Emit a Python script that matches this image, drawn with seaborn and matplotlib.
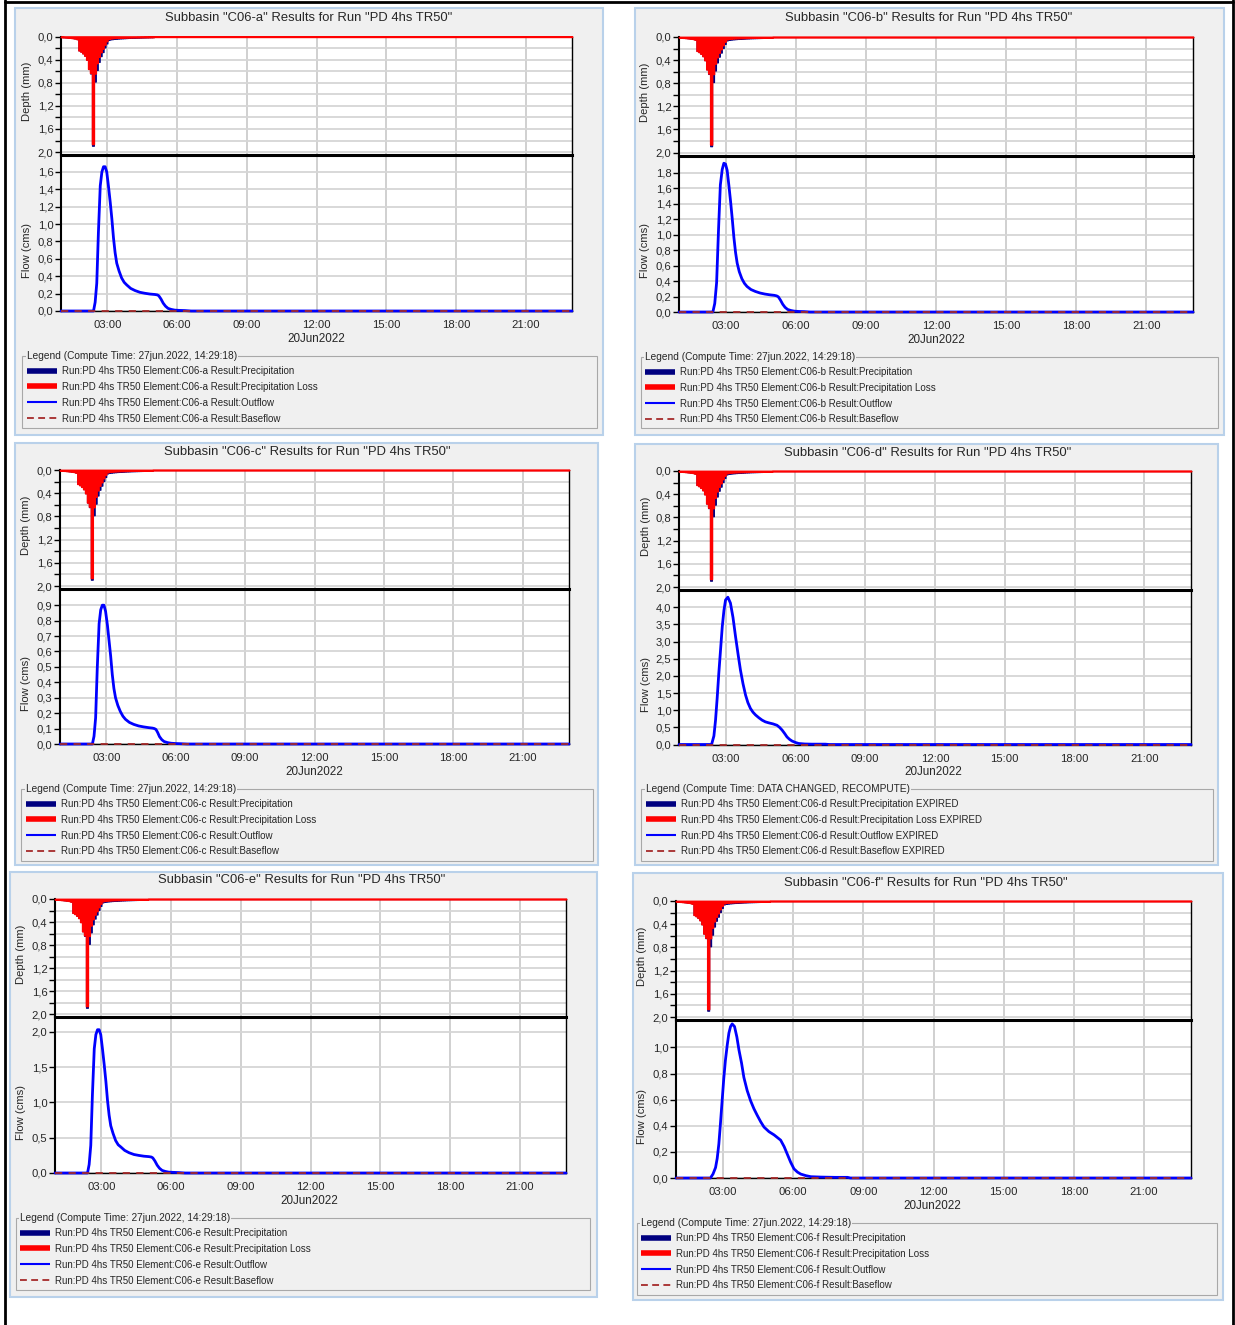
import numpy as np
import matplotlib
matplotlib.use("Agg")
import matplotlib.pyplot as plt
from matplotlib.lines import Line2D
from matplotlib.patches import Rectangle
from matplotlib.ticker import FixedLocator, FuncFormatter
import seaborn as sns

sns.set_style("white")
plt.rcParams['font.family'] = ['Liberation Sans', 'DejaVu Sans']

# ------------------------------------------------------------------ data
storm_start_h = 1.0          # 01:00 on 20Jun2022
step_min = 5                 # 5-minute hyetograph interval
run_end_h = 23.0             # 23:00

precip_mm = [0.010, 0.012, 0.014, 0.017, 0.020, 0.024, 0.028, 0.034, 0.045,
             0.24, 0.26, 0.29, 0.33, 0.40, 0.56, 0.64, 1.89, 0.78, 0.58, 0.44, 0.34, 0.27, 0.19, 0.12,
             0.060, 0.050, 0.046, 0.042, 0.039, 0.036, 0.034, 0.032, 0.030, 0.028, 0.026, 0.025,
             0.023, 0.022, 0.021, 0.020, 0.019, 0.018, 0.017, 0.016, 0.015, 0.014, 0.013, 0.012]
loss_mm = [0.010, 0.012, 0.014, 0.017, 0.020, 0.024, 0.028, 0.034, 0.045,
           0.24, 0.26, 0.29, 0.33, 0.40, 0.56, 0.63, 1.86, 0.64, 0.46, 0.35, 0.27, 0.21, 0.14, 0.08,
           0.040, 0.032, 0.028, 0.025, 0.023, 0.021, 0.020, 0.019, 0.018, 0.017, 0.016, 0.015,
           0.014, 0.013, 0.013, 0.012, 0.012, 0.011, 0.011, 0.010, 0.010, 0.009, 0.009, 0.008]

flow_a_t = [1.00, 2.40, 2.47, 2.54, 2.61, 2.69, 2.76, 2.83, 2.90, 2.97, 3.05, 3.12, 3.19, 3.26, 3.33, 3.40, 3.50, 3.61, 3.72,
            3.83, 4.00, 4.19, 4.40, 4.61, 4.83, 5.04, 5.15, 5.21, 5.30, 5.40, 5.50, 5.61, 5.75, 5.90, 6.10, 6.33, 6.60, 23.0]
flow_a_q = [0, 0, 0.10, 0.32, 0.90, 1.44, 1.60, 1.66, 1.66, 1.60, 1.42, 1.25, 1.06, 0.84, 0.67, 0.55, 0.46, 0.38, 0.33,
            0.30, 0.26, 0.235, 0.215, 0.204, 0.195, 0.19, 0.185, 0.175, 0.14, 0.09, 0.055, 0.03, 0.018, 0.01, 0.007, 0.005, 0, 0]

flow_b_t = [1.00, 2.45, 2.53, 2.61, 2.69, 2.77, 2.85, 2.92, 2.99, 3.06, 3.14, 3.21, 3.28, 3.35, 3.42, 3.49, 3.58, 3.69, 3.80,
            3.91, 4.08, 4.27, 4.47, 4.67, 4.88, 5.08, 5.18, 5.25, 5.34, 5.44, 5.54, 5.65, 5.78, 5.93, 6.13, 6.36, 6.62, 23.0]
flow_b_q = [0, 0, 0.11, 0.38, 1.05, 1.64, 1.84, 1.92, 1.91, 1.83, 1.62, 1.42, 1.20, 0.96, 0.77, 0.63, 0.52, 0.43, 0.37,
            0.33, 0.29, 0.265, 0.245, 0.232, 0.222, 0.215, 0.208, 0.196, 0.155, 0.10, 0.06, 0.033, 0.02, 0.011, 0.007, 0.005, 0, 0]

flow_c_t = [1.00, 2.40, 2.47, 2.54, 2.61, 2.69, 2.76, 2.83, 2.90, 2.97, 3.05, 3.12, 3.19, 3.26, 3.33, 3.40, 3.50, 3.61, 3.72,
            3.83, 4.00, 4.19, 4.40, 4.61, 4.83, 5.00, 5.08, 5.15, 5.22, 5.30, 5.40, 5.50, 5.65, 5.80, 6.00, 6.20, 6.50, 23.0]
flow_c_q = [0, 0, 0.05, 0.17, 0.49, 0.78, 0.87, 0.90, 0.90, 0.86, 0.77, 0.67, 0.57, 0.45, 0.36, 0.30, 0.25, 0.21, 0.18,
            0.16, 0.14, 0.127, 0.117, 0.111, 0.106, 0.103, 0.10, 0.094, 0.075, 0.048, 0.028, 0.016, 0.009, 0.005, 0.003, 0.002, 0, 0]

flow_d_t = [1.00, 2.40, 2.50, 2.57, 2.64, 2.71, 2.79, 2.86, 2.93, 3.00, 3.10, 3.21, 3.32, 3.43, 3.54, 3.64, 3.75, 3.86, 3.96,
            4.07, 4.18, 4.29, 4.43, 4.57, 4.71, 4.86, 5.04, 5.21, 5.32, 5.43, 5.54, 5.64, 5.75, 5.86, 6.00, 6.14, 6.40, 6.71,
            7.00, 7.29, 7.45, 23.0]
flow_d_q = [0, 0, 0.25, 0.71, 1.35, 2.07, 2.80, 3.44, 3.90, 4.21, 4.29, 4.12, 3.70, 3.14, 2.62, 2.17, 1.77, 1.44, 1.22,
            1.05, 0.94, 0.86, 0.78, 0.71, 0.66, 0.63, 0.60, 0.56, 0.50, 0.42, 0.32, 0.22, 0.15, 0.10, 0.06, 0.03, 0.015, 0.01,
            0.01, 0.01, 0, 0]

flow_e_t = [1.00, 2.40, 2.47, 2.54, 2.61, 2.69, 2.76, 2.83, 2.90, 2.97, 3.05, 3.12, 3.19, 3.26, 3.33, 3.40, 3.50, 3.61, 3.72,
            3.83, 4.00, 4.19, 4.40, 4.61, 4.83, 5.04, 5.15, 5.21, 5.30, 5.40, 5.50, 5.61, 5.75, 5.90, 6.10, 6.33, 6.60, 23.0]
flow_e_q = [0, 0, 0.12, 0.39, 1.10, 1.76, 1.96, 2.03, 2.03, 1.96, 1.74, 1.53, 1.30, 1.03, 0.82, 0.67, 0.56, 0.46, 0.40,
            0.37, 0.32, 0.287, 0.262, 0.249, 0.238, 0.232, 0.226, 0.214, 0.171, 0.11, 0.067, 0.037, 0.022, 0.012, 0.009, 0.006, 0, 0]

flow_f_t = [1.00, 2.47, 2.58, 2.69, 2.76, 2.83, 2.90, 2.97, 3.04, 3.11, 3.19, 3.26, 3.33, 3.40, 3.50, 3.60, 3.69, 3.80, 3.90,
            4.04, 4.19, 4.33, 4.47, 4.62, 4.76, 4.97, 5.19, 5.33, 5.47, 5.62, 5.76, 5.90, 6.04, 6.19, 6.33, 6.55, 6.76, 7.20,
            7.80, 8.33, 8.45, 23.0]
flow_f_q = [0, 0, 0.03, 0.08, 0.15, 0.26, 0.42, 0.59, 0.76, 0.90, 1.02, 1.11, 1.16, 1.18, 1.16, 1.08, 0.98, 0.88, 0.77,
            0.67, 0.59, 0.53, 0.48, 0.43, 0.39, 0.355, 0.33, 0.31, 0.29, 0.24, 0.18, 0.12, 0.07, 0.045, 0.03, 0.018, 0.01, 0.007,
            0.005, 0.005, 0, 0]

baseflow_t = [1.0, 23.0]
baseflow_q = [0.0, 0.0]

subbasins = ["C06-a", "C06-b", "C06-c", "C06-d", "C06-e", "C06-f"]
flow_ticks = {
    "C06-a": [0.0, 0.2, 0.4, 0.6, 0.8, 1.0, 1.2, 1.4, 1.6],
    "C06-b": [0.0, 0.2, 0.4, 0.6, 0.8, 1.0, 1.2, 1.4, 1.6, 1.8],
    "C06-c": [0.0, 0.1, 0.2, 0.3, 0.4, 0.5, 0.6, 0.7, 0.8, 0.9],
    "C06-d": [0.0, 0.5, 1.0, 1.5, 2.0, 2.5, 3.0, 3.5, 4.0],
    "C06-e": [0.0, 0.5, 1.0, 1.5, 2.0],
    "C06-f": [0.0, 0.2, 0.4, 0.6, 0.8, 1.0],
}
flow_max = {"C06-a": 1.795, "C06-b": 2.02, "C06-c": 1.005, "C06-d": 4.5, "C06-e": 2.21, "C06-f": 1.21}
flows = {"C06-a": (flow_a_t, flow_a_q), "C06-b": (flow_b_t, flow_b_q), "C06-c": (flow_c_t, flow_c_q),
         "C06-d": (flow_d_t, flow_d_q), "C06-e": (flow_e_t, flow_e_q), "C06-f": (flow_f_t, flow_f_q)}
depth_major = [0.0, 0.4, 0.8, 1.2, 1.6, 2.0]
depth_minor = [0.2, 0.6, 1.0, 1.4, 1.8]
time_ticks = [3, 6, 9, 12, 15, 18, 21]
date_label = "20Jun2022"
run_name = "PD 4hs TR50"
compute_time = {"C06-a": "27jun.2022, 14:29:18", "C06-b": "27jun.2022, 14:29:18", "C06-c": "27jun.2022, 14:29:18",
                "C06-d": "DATA CHANGED, RECOMPUTE", "C06-e": "27jun.2022, 14:29:18", "C06-f": "27jun.2022, 14:29:18"}
expired = {"C06-d"}
result_names = ["Precipitation", "Precipitation Loss", "Outflow", "Baseflow"]

# ------------------------------------------------------------------ layout (pixels)
W, H = 1235, 1325
layout = {
    "C06-a": dict(box=(15, 8, 603, 435), ax=(61, 572), dtop=36.5, sep=155, fbot=311, title=(309, 18), ylx=27,
                  date=(316, 339), lbox=(22, 356, 597, 428), lx=27, ly=371),
    "C06-b": dict(box=(635, 8, 1224, 435), ax=(679, 1193), dtop=37, sep=155.5, fbot=312, title=(929, 18), ylx=645,
                  date=(936, 340), lbox=(641, 357, 1218, 428), lx=645, ly=372),
    "C06-c": dict(box=(15, 443, 598, 865), ax=(60, 569), dtop=470, sep=589, fbot=744, title=(307, 452), ylx=26,
                  date=(314, 772), lbox=(21, 789, 593, 861), lx=26, ly=804),
    "C06-d": dict(box=(635, 444, 1218, 865), ax=(679, 1191), dtop=471, sep=590, fbot=744.5, title=(928, 453), ylx=646,
                  date=(933, 772), lbox=(641, 789, 1213, 861), lx=646, ly=804),
    "C06-e": dict(box=(10, 872, 597, 1297), ax=(55, 566), dtop=899, sep=1017, fbot=1173, title=(302, 880), ylx=21,
                  date=(309, 1201), lbox=(16, 1218, 590, 1290), lx=20, ly=1233),
    "C06-f": dict(box=(633, 873, 1223, 1300), ax=(676, 1191), dtop=901, sep=1020, fbot=1178, title=(926, 883), ylx=642,
                  date=(932, 1206), lbox=(637, 1223, 1217, 1295), lx=641, ly=1238),
}

NAVY, RED, BLUE, BROWN = "#000080", "#ff0000", "#0000ff", "#a52a2a"
PANEL_BG, PANEL_EDGE = "#f0f0f0", "#b9d1ea"
GRID_V, GRID_H = "#c4c4c4", "#d6d6d6"
TICK_FS, TITLE_FS, LEG_FS, DATE_FS = 8.1, 9.4, 7.0, 8.4

fig = plt.figure(figsize=(W / 100, H / 100), dpi=100)
fig.patch.set_facecolor("white")


def fx(x):
    return x / W


def fy(y):
    return 1 - y / H


comma = FuncFormatter(lambda v, p: f"{v:.1f}".replace(".", ","))
hhmm = FuncFormatter(lambda v, p: f"{int(round(v)):02d}:00")

n_int = int(round((run_end_h - storm_start_h) * 60 / step_min))
edges = storm_start_h + np.arange(n_int + 1) * step_min / 60.0


def pad_series(vals):
    full = np.zeros(n_int)
    full[:len(vals)] = vals
    return np.append(full, full[-1])


precip_full = pad_series(precip_mm)
loss_full = pad_series(loss_mm)

for sb in subbasins:
    L = layout[sb]
    x0b, y0b, x1b, y1b = L["box"]
    fig.add_artist(Rectangle((fx(x0b), fy(y1b)), (x1b - x0b) / W, (y1b - y0b) / H, transform=fig.transFigure,
                             facecolor=PANEL_BG, edgecolor=PANEL_EDGE, linewidth=1.5, zorder=-10))
    ax0, ax1 = L["ax"]
    aw = (ax1 - ax0) / W

    # ---------------- flow axes
    axf = fig.add_axes([fx(ax0), fy(L["fbot"]), aw, (L["fbot"] - L["sep"]) / H])
    axf.set_zorder(1)
    axf.set_facecolor("white")
    axf.set_axisbelow(True)
    ft, fq = flows[sb]
    sns.lineplot(x=ft, y=fq, ax=axf, color=BLUE, linewidth=2.0, zorder=3, clip_on=False)
    sns.lineplot(x=baseflow_t, y=baseflow_q, ax=axf, color=BROWN, linewidth=1.3, zorder=4, clip_on=False,
                 linestyle=(0, (4, 3.5)))
    axf.set_xlim(storm_start_h, run_end_h)
    axf.set_ylim(0, flow_max[sb])
    axf.yaxis.set_major_locator(FixedLocator(flow_ticks[sb]))
    axf.yaxis.set_major_formatter(comma)
    axf.xaxis.set_major_locator(FixedLocator(time_ticks))
    axf.xaxis.set_major_formatter(hhmm)
    axf.grid(True, axis="y", color=GRID_H, linewidth=1.3)
    axf.grid(True, axis="x", color=GRID_V, linewidth=1.1)
    axf.tick_params(axis="x", bottom=False, pad=3, labelsize=TICK_FS)
    axf.tick_params(axis="y", left=True, direction="out", length=4, width=1, color="black", pad=1.5,
                    labelsize=TICK_FS)
    axf.set_xlabel("")
    axf.set_ylabel("")
    for s, lw in (("left", 1.5), ("bottom", 1.0), ("right", 1.0)):
        axf.spines[s].set_visible(True)
        axf.spines[s].set_linewidth(lw)
        axf.spines[s].set_color("black")
    axf.spines["top"].set_visible(False)

    # ---------------- depth (hyetograph) axes
    axd = fig.add_axes([fx(ax0), fy(L["sep"]), aw, (L["sep"] - L["dtop"]) / H])
    axd.set_zorder(2)
    axd.set_facecolor("white")
    axd.set_axisbelow(True)
    axd.fill_between(edges, 0, precip_full, step="post", facecolor=NAVY, edgecolor=NAVY, linewidth=0.8, zorder=2)
    axd.fill_between(edges, 0, loss_full, step="post", facecolor=RED, edgecolor=RED, linewidth=1.1, zorder=3,
                     clip_on=False)
    axd.set_xlim(storm_start_h, run_end_h)
    axd.set_ylim(2.05, 0)
    axd.yaxis.set_major_locator(FixedLocator(depth_major))
    axd.yaxis.set_minor_locator(FixedLocator(depth_minor))
    axd.yaxis.set_major_formatter(comma)
    axd.xaxis.set_major_locator(FixedLocator(time_ticks))
    axd.grid(True, axis="y", which="both", color=GRID_H, linewidth=1.3)
    axd.grid(True, axis="x", which="major", color=GRID_V, linewidth=1.1)
    axd.tick_params(axis="x", bottom=False, labelbottom=False)
    axd.tick_params(axis="y", which="both", left=True, direction="out", length=4, width=1, color="black",
                    pad=1.5, labelsize=TICK_FS)
    for s, lw, c in (("left", 1.5, "black"), ("bottom", 2.2, "black"), ("right", 1.0, "black"), ("top", 1.0, RED)):
        axd.spines[s].set_visible(True)
        axd.spines[s].set_linewidth(lw)
        axd.spines[s].set_color(c)

    # ---------------- texts
    fig.text(fx(L["title"][0]), fy(L["title"][1]), f'Subbasin "{sb}" Results for Run "{run_name}"',
             ha="center", va="center", fontsize=TITLE_FS)
    fig.text(fx(L["ylx"]), fy((L["dtop"] + L["sep"]) / 2 - 4), "Depth (mm)", rotation=90,
             ha="center", va="center", fontsize=TICK_FS)
    fig.text(fx(L["ylx"]), fy((L["sep"] + L["fbot"]) / 2 + 17), "Flow (cms)", rotation=90,
             ha="center", va="center", fontsize=TICK_FS)
    fig.text(fx(L["date"][0]), fy(L["date"][1]), date_label, ha="center", va="center", fontsize=DATE_FS)

    # ---------------- legend group box
    lx0, ly0, lx1, ly1 = L["lbox"]
    fig.add_artist(Rectangle((fx(lx0), fy(ly1)), (lx1 - lx0) / W, (ly1 - ly0) / H, transform=fig.transFigure,
                             facecolor="none", edgecolor="#a8a8a8", linewidth=0.8, zorder=-5))
    fig.text(fx(L["lx"]), fy(ly0), f"Legend (Compute Time: {compute_time[sb]})", ha="left", va="center",
             fontsize=LEG_FS + 0.3, bbox=dict(facecolor=PANEL_BG, edgecolor="none", pad=0.5))
    suffix = " EXPIRED" if sb in expired else ""
    labels = [f"Run:{run_name} Element:{sb} Result:{r}{suffix}" for r in result_names]
    handles = [Line2D([], [], color=NAVY, linewidth=4, solid_capstyle="butt"),
               Line2D([], [], color=RED, linewidth=4, solid_capstyle="butt"),
               Line2D([], [], color=BLUE, linewidth=1.5, solid_capstyle="butt"),
               Line2D([], [], color=BROWN, linewidth=1.3, linestyle=(0, (3.8, 2.4)))]
    fig.legend(handles, labels, loc="upper left", bbox_to_anchor=(fx(L["lx"]), fy(L["ly"] - 5.0)),
               frameon=False, fontsize=LEG_FS, handlelength=3.1, handletextpad=0.55, labelspacing=0.6,
               borderpad=0, borderaxespad=0)

# outer frame of the screenshot
for (xa, ya, xb, yb) in ((5, 0, 5, H), (5, 1.5, 1232.5, 1.5), (1232.5, 0, 1232.5, H)):
    fig.add_artist(Line2D([fx(xa), fx(xb)], [fy(ya), fy(yb)], transform=fig.transFigure, color="black",
                          linewidth=2))

fig.savefig("out.png", dpi=100)
